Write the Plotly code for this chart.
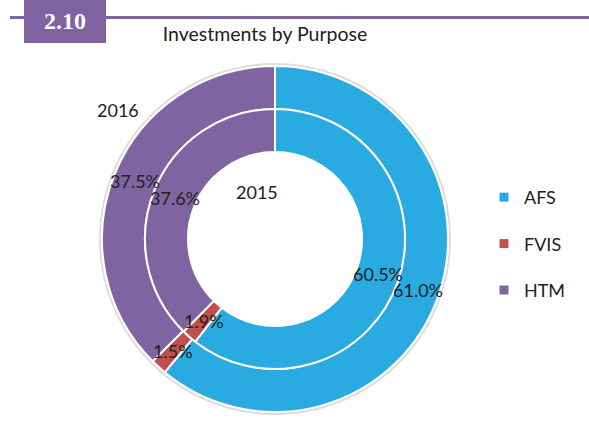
import math
import plotly.graph_objects as go

# ---- data ----
categories = ["AFS", "FVIS", "HTM"]
values_2016 = [61.0, 1.5, 37.5]
values_2015 = [60.5, 1.9, 37.6]
ring_names = ["2016", "2015"]
colors = ["#29ABE2", "#C0504D", "#8064A2"]
title_text = "Investments by Purpose"
section_no = "2.10"

# ---- layout geometry ----
W, H = 589, 421
CX, CY = 275, 239
R_OUT, R_MID, R_IN = 173, 130, 87
FONT = "Lato"
TXT = "#222222"


def dom(r):
    return dict(x=[(CX - r) / W, (CX + r) / W], y=[1 - (CY + r) / H, 1 - (CY - r) / H])


fig = go.Figure()
for name, vals, r_o, r_i in [(ring_names[0], values_2016, R_OUT, R_MID),
                             (ring_names[1], values_2015, R_MID, R_IN)]:
    fig.add_trace(go.Pie(
        labels=categories, values=vals, name=name,
        domain=dom(r_o), hole=r_i / r_o,
        sort=False, direction="clockwise", rotation=0,
        marker=dict(colors=colors, line=dict(color="white", width=2)),
        textinfo="none", showlegend=False,
    ))

# legend entries
for cat, col in zip(categories, colors):
    fig.add_trace(go.Scatter(
        x=[None], y=[None], mode="markers", name=cat, legendgroup=cat,
        marker=dict(symbol="square", size=9, color=col),
    ))

annotations = []
# percentage labels at slice mid-angle / ring mid-radius
for vals, r_o, r_i in [(values_2016, R_OUT, R_MID), (values_2015, R_MID, R_IN)]:
    total = sum(vals)
    r = (r_o + r_i) / 2
    cum = 0
    for v in vals:
        a = (cum + v / 2) / total * 2 * math.pi
        cum += v
        px = CX + r * math.sin(a)
        py = CY - r * math.cos(a)
        annotations.append(dict(
            x=px / W, y=1 - py / H, xref="paper", yref="paper",
            text=f"{v:.1f}%", showarrow=False,
            font=dict(family=FONT, size=18, color=TXT),
            xanchor="center", yanchor="middle",
        ))

# ring names
for name, (px, py) in zip(ring_names, [(118, 110), (257, 192)]):
    annotations.append(dict(
        x=px / W, y=1 - py / H, xref="paper", yref="paper", text=name,
        showarrow=False, font=dict(family=FONT, size=18, color=TXT),
        xanchor="center", yanchor="middle",
    ))

# section number in header box
annotations.append(dict(
    x=65 / W, y=1 - 21 / H, xref="paper", yref="paper",
    text=f"<b>{section_no}</b>", showarrow=False,
    font=dict(family="Liberation Serif", size=24, color="white"),
    xanchor="center", yanchor="middle",
))

RS = R_OUT + 2
shapes = [
    dict(type="line", xref="paper", yref="paper", x0=10 / W, x1=1, y0=1 - 17.5 / H, y1=1 - 17.5 / H,
         line=dict(color="#8064A2", width=3)),
    dict(type="rect", xref="paper", yref="paper", x0=24 / W, x1=106 / W, y0=1 - 43 / H, y1=1,
         fillcolor="#8064A2", line=dict(width=0)),
    # soft outline around the outer ring
    dict(type="circle", xref="paper", yref="paper", layer="below",
         x0=(CX - RS) / W, x1=(CX + RS) / W, y0=1 - (CY + RS) / H, y1=1 - (CY - RS) / H,
         line=dict(color="#dcdcdc", width=2)),
]

fig.update_layout(
    width=W, height=H,
    margin=dict(l=0, r=0, t=0, b=0),
    paper_bgcolor="white", plot_bgcolor="white",
    title=dict(text=title_text, x=265 / W, y=1 - 34 / H, xanchor="center", yanchor="middle",
               font=dict(family=FONT, size=19.5, color=TXT)),
    xaxis=dict(visible=False), yaxis=dict(visible=False),
    legend=dict(x=484 / W, y=1 - 244 / H, xanchor="left", yanchor="middle",
                font=dict(family=FONT, size=18, color=TXT), tracegroupgap=20,
                bgcolor="rgba(0,0,0,0)"),
    annotations=annotations, shapes=shapes,
)

fig.write_html("out.html", config={"displayModeBar": False},
               post_script="document.body.style.margin='0';document.body.style.overflow='hidden';")
